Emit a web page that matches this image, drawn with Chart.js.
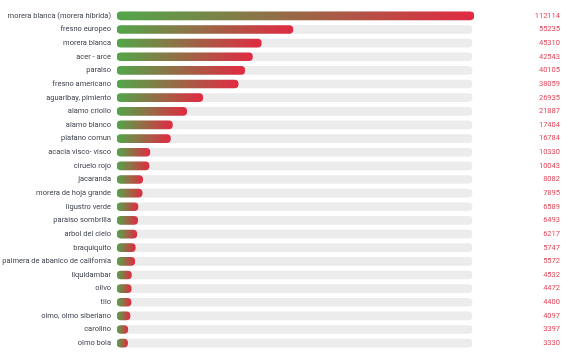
<!DOCTYPE html>
<html>
<head>
<meta charset="utf-8">
<script src="https://cdn.jsdelivr.net/npm/chart.js@4"></script>
<style>
  html, body { margin: 0; padding: 0; background: #fff; }
  #wrap { width: 570px; height: 353px; }
</style>
</head>
<body>
<div id="wrap"><canvas id="speciesChart"></canvas></div>
<script>
// species names (left axis)
const species = [
  'morera blanca (morera hibrida)', 'fresno europeo', 'morera blanca', 'acer - arce',
  'paraiso', 'fresno americano', 'aguaribay, pimiento', 'alamo criollo',
  'alamo blanco', 'platano comun', 'acacia visco- visco', 'ciruelo rojo',
  'jacaranda', 'morera de hoja grande', 'ligustro verde', 'paraiso sombrilla',
  'arbol del cielo', 'braquiquito', 'palmera de abanico de california', 'liquidambar',
  'olivo', 'tilo', 'olmo, olmo siberiano', 'carolino', 'olmo bola'
];

// tree counts per species
const counts = [
  112114, 55235, 45310, 42543, 40105, 38059, 26935, 21887, 17404, 16784,
  10330, 10043, 8082, 7895, 6589, 6493, 6217, 5747, 5572, 4532,
  4472, 4400, 4097, 3397, 3330
];

const trackMax = 111500;
const track = species.map(() => trackMax);

const GREEN = '#52a64a';
const RED = '#e12a42';

function barGradient(ctx) {
  const chart = ctx.chart;
  const xScale = chart.scales.x;
  if (!xScale || !chart.chartArea || ctx.raw == null) return RED;
  const x0 = xScale.getPixelForValue(0);
  const x1 = xScale.getPixelForValue(ctx.raw);
  const g = chart.ctx.createLinearGradient(x0, 0, Math.max(x1, x0 + 1), 0);
  g.addColorStop(0, GREEN);
  g.addColorStop(1, RED);
  return g;
}

// vertical axes: fixed width, no extra label padding top/bottom
function fitAxis(width) {
  return (scale) => {
    scale.width = width;
    scale.paddingTop = 0;
    scale.paddingBottom = 0;
  };
}

new Chart(document.getElementById('speciesChart'), {
  type: 'bar',
  data: {
    labels: species,
    datasets: [
      {
        label: 'Ejemplares',
        data: counts,
        backgroundColor: barGradient,
        borderRadius: 4,
        borderSkipped: false,
        barThickness: 8,
        grouped: false,
        order: 0,
      },
      {
        label: 'track',
        data: track,
        backgroundColor: '#ececec',
        borderRadius: 4,
        borderSkipped: false,
        barThickness: 8,
        grouped: false,
        order: 1,
      },
    ],
  },
  options: {
    indexAxis: 'y',
    responsive: true,
    maintainAspectRatio: false,
    animation: false,
    layout: { padding: { top: 9, bottom: 3, left: 0, right: 10 } },
    plugins: {
      legend: { display: false },
      tooltip: { enabled: false },
    },
    scales: {
      x: {
        display: false,
        min: 0,
        max: 112114,
      },
      y: {
        position: 'left',
        grid: { display: false, drawTicks: false },
        border: { display: false },
        afterFit: fitAxis(117),
        ticks: {
          color: '#3a3f4a',
          font: { family: 'Roboto', size: 7.5 },
          padding: 6,
          autoSkip: false,
        },
      },
      yValues: {
        type: 'category',
        position: 'right',
        labels: counts.map(String),
        grid: { display: false, drawTicks: false },
        border: { display: false },
        afterFit: fitAxis(86),
        ticks: {
          color: '#e2475a',
          font: { family: 'Roboto', size: 7.5 },
          crossAlign: 'far',
          autoSkip: false,
        },
      },
    },
  },
});
</script>
</body>
</html>
